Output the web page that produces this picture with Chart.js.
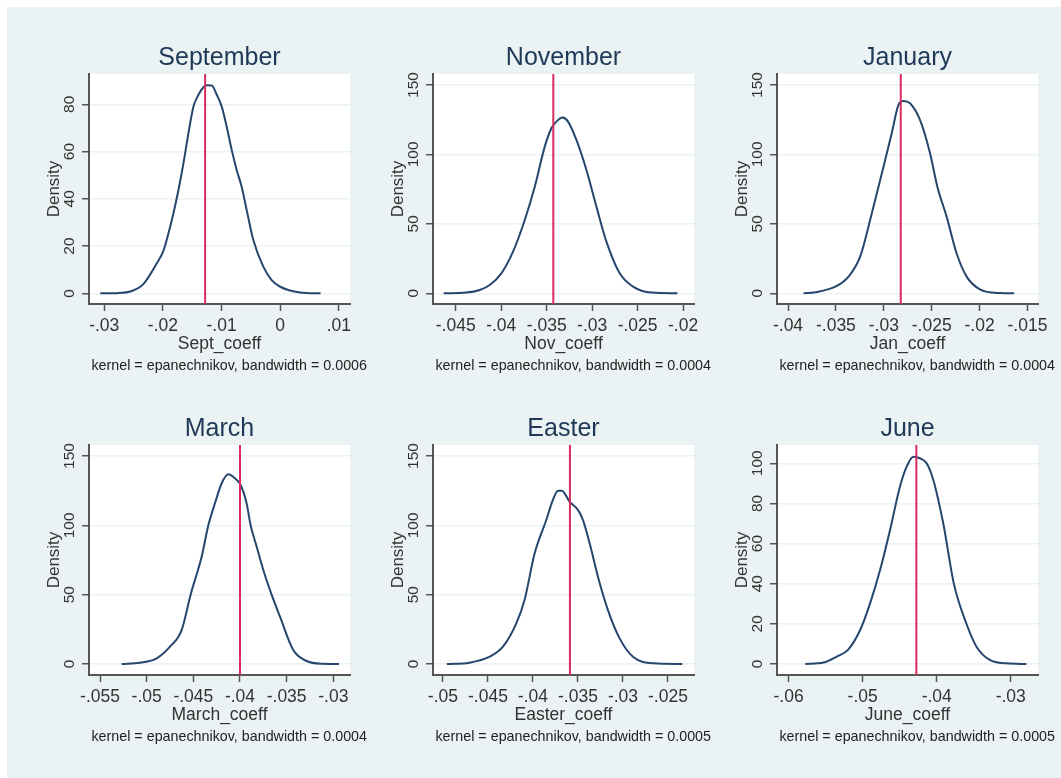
<!DOCTYPE html>
<html>
<head>
<meta charset="utf-8">
<script src="https://cdn.jsdelivr.net/npm/chart.js@4.4.1/dist/chart.umd.min.js"></script>
<style>
    html, body { margin: 0; padding: 0; background: #fff; overflow: hidden; }
    #page { position: relative; width: 1061px; height: 778px; }
    #bg { position: absolute; left: 7px; top: 7px; right: 0; bottom: 0; background: #eaf2f3; }
    canvas { position: absolute; }
</style>
</head>
<body>
<div id="page"><div id="bg"></div></div>
<script>
// Títulos y textos
const panelTitles = ['September', 'November', 'January', 'March', 'Easter', 'June'];
const xTitles = ['Sept_coeff', 'Nov_coeff', 'Jan_coeff', 'March_coeff', 'Easter_coeff', 'June_coeff'];
const bandwidths = ['0.0006', '0.0004', '0.0004', '0.0004', '0.0005', '0.0005'];

// Curvas de densidad
const septX = [-0.03068, -0.02784, -0.02529, -0.02330, -0.02104, -0.01990, -0.01905, -0.01820, -0.01735, -0.01650, -0.01565, -0.01479, -0.01394, -0.01309, -0.01252, -0.01167, -0.01082, -0.00997, -0.00912, -0.00827, -0.00742, -0.00657, -0.00572, -0.00458, -0.00288, -0.00146, 0.0, 0.00336, 0.00688];
const septY = [0, 0.1, 1.0, 4.0, 12.7, 18.1, 25.4, 33.9, 43.7, 55.0, 67.7, 79.0, 84.0, 87.2, 88.0, 87.9, 84.0, 79.0, 70.5, 60.7, 52.2, 45.1, 35.3, 22.6, 11.3, 5.6, 2.8, 0.4, 0];

const novX = [-0.04632, -0.04383, -0.04236, -0.04126, -0.03998, -0.03870, -0.03741, -0.03631, -0.03521, -0.03448, -0.03393, -0.03327, -0.03265, -0.03173, -0.03063, -0.02953, -0.02843, -0.02697, -0.02550, -0.02348, -0.02062];
const novY = [0, 0.5, 2.4, 6.0, 14.4, 30.0, 52.8, 76.8, 105.6, 118.8, 123.6, 126.5, 123.6, 110.4, 88.8, 62.4, 37.2, 14.4, 4.8, 0.5, 0];

const janX = [-0.03837, -0.03715, -0.03490, -0.03368, -0.03247, -0.03125, -0.03003, -0.02917, -0.02847, -0.02795, -0.02726, -0.02622, -0.02517, -0.02441, -0.02344, -0.02240, -0.02135, -0.01997, -0.01788, -0.01639];
const janY = [0, 0.7, 5.3, 12.0, 26.4, 57.6, 91.2, 115.2, 135.6, 138.5, 136.8, 124.8, 100.8, 76.8, 55.2, 28.8, 12.0, 2.9, 0.2, 0];

const marX = [-0.05268, -0.05071, -0.04893, -0.04750, -0.04625, -0.04529, -0.04411, -0.04339, -0.04268, -0.04196, -0.04125, -0.04054, -0.03993, -0.03929, -0.03886, -0.03821, -0.03750, -0.03661, -0.03571, -0.03429, -0.03286, -0.03107, -0.02939];
const marY = [0, 1.0, 4.1, 12.5, 24.5, 50.0, 77.4, 100.0, 115.9, 130.3, 136.8, 133.9, 129.1, 115.9, 100.0, 84.6, 67.8, 50.0, 34.1, 10.1, 2.2, 0.2, 0];

const eastX = [-0.04956, -0.04704, -0.04481, -0.04333, -0.04185, -0.04093, -0.03981, -0.03852, -0.03778, -0.03722, -0.03678, -0.03593, -0.03500, -0.03444, -0.03370, -0.03278, -0.03167, -0.03037, -0.02889, -0.02667, -0.02341];
const eastY = [0, 1.0, 5.3, 12.5, 29.3, 46.2, 79.8, 103.8, 118.3, 125.0, 125.0, 117.1, 111.1, 103.8, 87.0, 63.0, 38.9, 18.5, 5.3, 0.5, 0];

const juneX = [-0.05775, -0.05528, -0.05349, -0.05192, -0.05034, -0.04900, -0.04765, -0.04630, -0.04496, -0.04406, -0.04316, -0.04226, -0.04136, -0.04046, -0.03912, -0.03768, -0.03597, -0.03463, -0.03283, -0.03058, -0.02789];
const juneY = [0, 0.7, 3.7, 7.3, 16.9, 30.2, 46.8, 66.8, 88.4, 98.3, 103.3, 102.5, 100.0, 91.7, 70.1, 39.9, 19.9, 8.6, 2.0, 0.3, 0];

// Línea vertical roja
const redLines = [-0.0128, -0.03427, -0.02823, -0.0400, -0.03589, -0.04275];

// Ejes
const xTicks = [
    [-0.03, -0.02, -0.01, 0, 0.01],
    [-0.045, -0.04, -0.035, -0.03, -0.025, -0.02],
    [-0.04, -0.035, -0.03, -0.025, -0.02, -0.015],
    [-0.055, -0.05, -0.045, -0.04, -0.035, -0.03],
    [-0.05, -0.045, -0.04, -0.035, -0.03, -0.025],
    [-0.06, -0.05, -0.04, -0.03]
];
const xTickLabels = [
    ['-.03', '-.02', '-.01', '0', '.01'],
    ['-.045', '-.04', '-.035', '-.03', '-.025', '-.02'],
    ['-.04', '-.035', '-.03', '-.025', '-.02', '-.015'],
    ['-.055', '-.05', '-.045', '-.04', '-.035', '-.03'],
    ['-.05', '-.045', '-.04', '-.035', '-.03', '-.025'],
    ['-.06', '-.05', '-.04', '-.03']
];
const yTicks = [
    [0, 20, 40, 60, 80],
    [0, 50, 100, 150],
    [0, 50, 100, 150],
    [0, 50, 100, 150],
    [0, 50, 100, 150],
    [0, 20, 40, 60, 80, 100]
];
const xRanges = [[-0.0326, 0.0119], [-0.0475, -0.0188], [-0.04115, -0.0139], [-0.05618, -0.02821], [-0.0511, -0.02211], [-0.06157, -0.02632]];
const yRanges = [[-4.5, 92.8], [-7.7, 157.9], [-7.7, 157.9], [-7.9, 157.9], [-7.9, 157.9], [-5.5, 109.1]];

const curves = [[septX, septY], [novX, novY], [janX, janY], [marX, marY], [eastX, eastY], [juneX, juneY]];

// Posición de cada panel
const fam = '"Liberation Sans", Arial, sans-serif';
const plotW = 261, plotH = 230;
const colLeft = [89, 433, 777], rowTop = [74, 445];
const padL = 43, axisW = 17, padR = 25, topSpace = 50, xAxisH = 52, padB = 20;

Chart.defaults.font.family = fam;

// Fondo blanco del área del gráfico
const whiteArea = {
    id: 'whiteArea',
    beforeDraw(chart) {
        const a = chart.chartArea, ctx = chart.ctx;
        ctx.save();
        ctx.fillStyle = '#fff';
        ctx.fillRect(a.left, a.top, a.right - a.left, a.bottom - a.top);
        ctx.restore();
    }
};

// Etiquetas del eje y giradas 90 grados (como en Stata)
const yLabels = {
    id: 'yLabels',
    afterDraw(chart) {
        const ctx = chart.ctx, y = chart.scales.y, a = chart.chartArea;
        ctx.save();
        ctx.font = '15.5px ' + fam;
        ctx.fillStyle = '#333';
        ctx.textAlign = 'center';
        ctx.textBaseline = 'middle';
        y.ticks.forEach(t => {
            ctx.save();
            ctx.translate(a.left - 19.5, y.getPixelForValue(t.value));
            ctx.rotate(-Math.PI / 2);
            ctx.fillText(String(t.value), 0, 0);
            ctx.restore();
        });
        ctx.restore();
    }
};

// Nota del kernel
const notePlugin = {
    id: 'note',
    afterDraw(chart, args, opts) {
        const a = chart.chartArea, ctx = chart.ctx;
        ctx.save();
        ctx.font = '14.3px ' + fam;
        ctx.fillStyle = '#222';
        ctx.textAlign = 'right';
        ctx.textBaseline = 'middle';
        ctx.fillText(opts.text, a.right + 17, a.bottom + 62);
        ctx.restore();
    }
};

const page = document.getElementById('page');

curves.forEach(([xs, ys], i) => {
    const pts = xs.map((x, k) => ({ x: x, y: ys[k] }));
    const canvas = document.createElement('canvas');
    const w = padL + axisW + plotW + padR;
    const h = topSpace + plotH + xAxisH + padB;
    canvas.width = w;
    canvas.height = h;
    canvas.style.width = w + 'px';
    canvas.style.height = h + 'px';
    canvas.style.left = (colLeft[i % 3] - padL - axisW) + 'px';
    canvas.style.top = (rowTop[Math.floor(i / 3)] - topSpace) + 'px';
    page.appendChild(canvas);

    new Chart(canvas, {
        type: 'line',
        data: {
            datasets: [
                {
                    data: pts,
                    borderColor: '#26466d',
                    borderWidth: 2,
                    pointRadius: 0,
                    cubicInterpolationMode: 'monotone',
                    fill: false,
                    order: 1
                },
                {
                    data: [{ x: redLines[i], y: yRanges[i][0] }, { x: redLines[i], y: yRanges[i][1] }],
                    borderColor: '#d62b5c',
                    borderWidth: 2,
                    pointRadius: 0,
                    fill: false,
                    order: 0
                }
            ]
        },
        options: {
            responsive: false,
            animation: false,
            events: [],
            layout: { padding: { left: padL, right: padR, top: 0, bottom: padB } },
            plugins: {
                legend: { display: false },
                tooltip: { enabled: false },
                title: {
                    display: true,
                    text: panelTitles[i],
                    fullSize: false,
                    color: '#1e3856',
                    font: { size: 25, weight: 'normal' },
                    padding: { top: 19, bottom: 1 }
                },
                note: { text: 'kernel = epanechnikov, bandwidth = ' + bandwidths[i] }
            },
            scales: {
                x: {
                    type: 'linear',
                    position: 'bottom',
                    min: xRanges[i][0],
                    max: xRanges[i][1],
                    afterBuildTicks: s => { s.ticks = xTicks[i].map(v => ({ value: v })); },
                    afterFit: s => { s.height = xAxisH; },
                    ticks: {
                        autoSkip: false,
                        maxRotation: 0,
                        minRotation: 0,
                        padding: 4.5,
                        color: '#333',
                        font: { size: 17.5 },
                        callback: (v, k) => xTickLabels[i][k]
                    },
                    grid: { drawOnChartArea: false, drawTicks: true, tickLength: 7, tickColor: '#555', tickWidth: 1.5 },
                    border: { display: true, color: '#555', width: 2 },
                    title: { display: true, text: xTitles[i], color: '#333', font: { size: 17.5 }, padding: { top: 0, bottom: 1.5 } }
                },
                y: {
                    type: 'linear',
                    position: 'left',
                    min: yRanges[i][0],
                    max: yRanges[i][1],
                    afterBuildTicks: s => { s.ticks = yTicks[i].map(v => ({ value: v })); },
                    afterFit: s => { s.width = axisW; },
                    ticks: { display: false, autoSkip: false },
                    grid: { color: '#eaf2f3', lineWidth: 1.5, drawTicks: true, tickLength: 7, tickColor: '#555', tickWidth: 1.5 },
                    border: { display: true, color: '#555', width: 2 },
                    title: { display: true, text: 'Density', color: '#333', font: { size: 17 }, padding: { top: 25.5 - padL - 10.2, bottom: 0 } }
                }
            }
        },
        plugins: [whiteArea, yLabels, notePlugin]
    });
});
</script>
</body>
</html>
